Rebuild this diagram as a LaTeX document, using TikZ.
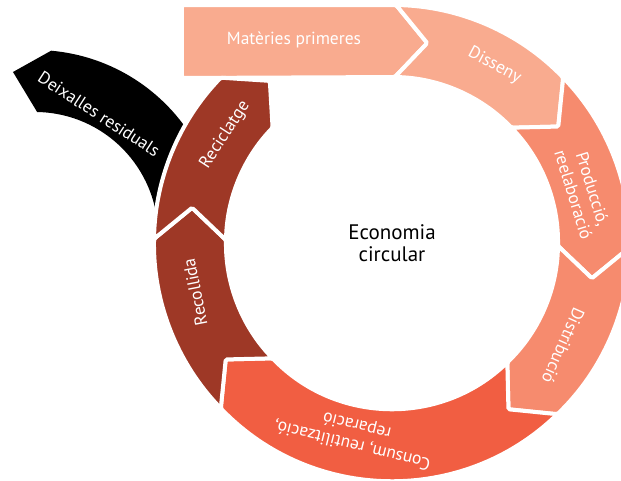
\documentclass[tikz,border=0pt]{standalone}
\usepackage{fontspec}
\setmainfont{PT Sans}
\definecolor{paleorange}{RGB}{249,171,143}
\definecolor{midorange}{RGB}{246,139,110}
\definecolor{brightred}{RGB}{241,94,66}
\definecolor{rustred}{RGB}{158,56,38}
\tikzset{%
  seg/.style={draw=white,line width=4pt,rounded corners=1.5pt},
  lbl/.style={color=white,font=\fontsize{17.5}{20}\selectfont,align=center},
  centre/.style={color=black,font=\fontsize{21}{22}\selectfont,align=center}
}

\begin{document}
\begin{tikzpicture}[x=1pt,y=1pt]
  \useasboundingbox (-392,-237) rectangle (229,243);

  % outgoing arrow
  \fill[black] (-379,171) -- ([shift={(-357,8)}]85:185)
    arc[start angle=85,end angle=30,radius=185]
    -- ([shift={(-357,8)}]0:123)
    arc[start angle=0,end angle=89,radius=123] -- cycle;

  % incoming box
  \filldraw[seg,fill=paleorange] (-210,165) -- (-210,238) -- (89:238)
    -- (80:203) -- (89:166) -- cycle;

  % ring
  \filldraw[seg,fill=paleorange] (89:238) arc[start angle=89,end angle=44,radius=238]
    -- (35:203) -- (44:166) arc[start angle=44,end angle=89,radius=166] -- (80:203) -- cycle;
  \filldraw[seg,fill=midorange] (44:238) arc[start angle=44,end angle=-1,radius=238]
    -- (-10:203) -- (-1:166) arc[start angle=-1,end angle=44,radius=166] -- (35:203) -- cycle;
  \filldraw[seg,fill=midorange] (-1:238) arc[start angle=-1,end angle=-46,radius=238]
    -- (-55:203) -- (-46:166) arc[start angle=-46,end angle=-1,radius=166] -- (-10:203) -- cycle;
  \filldraw[seg,fill=brightred] (-46:238) arc[start angle=-46,end angle=-136,radius=238]
    -- (-145:203) -- (-136:166) arc[start angle=-136,end angle=-46,radius=166] -- (-55:203) -- cycle;
  \filldraw[seg,fill=rustred] (-136:238) arc[start angle=-136,end angle=-181,radius=238]
    -- (-190:203) -- (-181:166) arc[start angle=-181,end angle=-136,radius=166] -- (-145:203) -- cycle;
  \filldraw[seg,fill=rustred] (-181:238) arc[start angle=-181,end angle=-224,radius=238]
    -- (-233:203) -- (-224:166) arc[start angle=-224,end angle=-181,radius=166] -- (-190:203) -- cycle;

  \node[lbl] (materies) at (-98,203) {Matèries primeres};
  \node[lbl,rotate=-28] (disseny) at (60:205) {Disseny};
  \node[lbl,rotate=-73] (produccio) at (15:198) {Producció,\\reelaboració};
  \node[lbl,rotate=-114] (distribucio) at (-31:200) {Distribució};
  \node[lbl,rotate=166] (consum) at (-101:195) {Consum, reutilització,\\reparació};
  \node[lbl,rotate=101] (recollida) at (-166:203) {Recollida};
  \node[lbl,rotate=57] (reciclatge) at (147:199) {Reciclatge};
  \node[lbl,rotate=-33] (deixalles) at (-293,129) {Deixalles residuals};

  \node[centre] (economia) at (0,0) {Economia\\circular};
\end{tikzpicture}
\end{document}
